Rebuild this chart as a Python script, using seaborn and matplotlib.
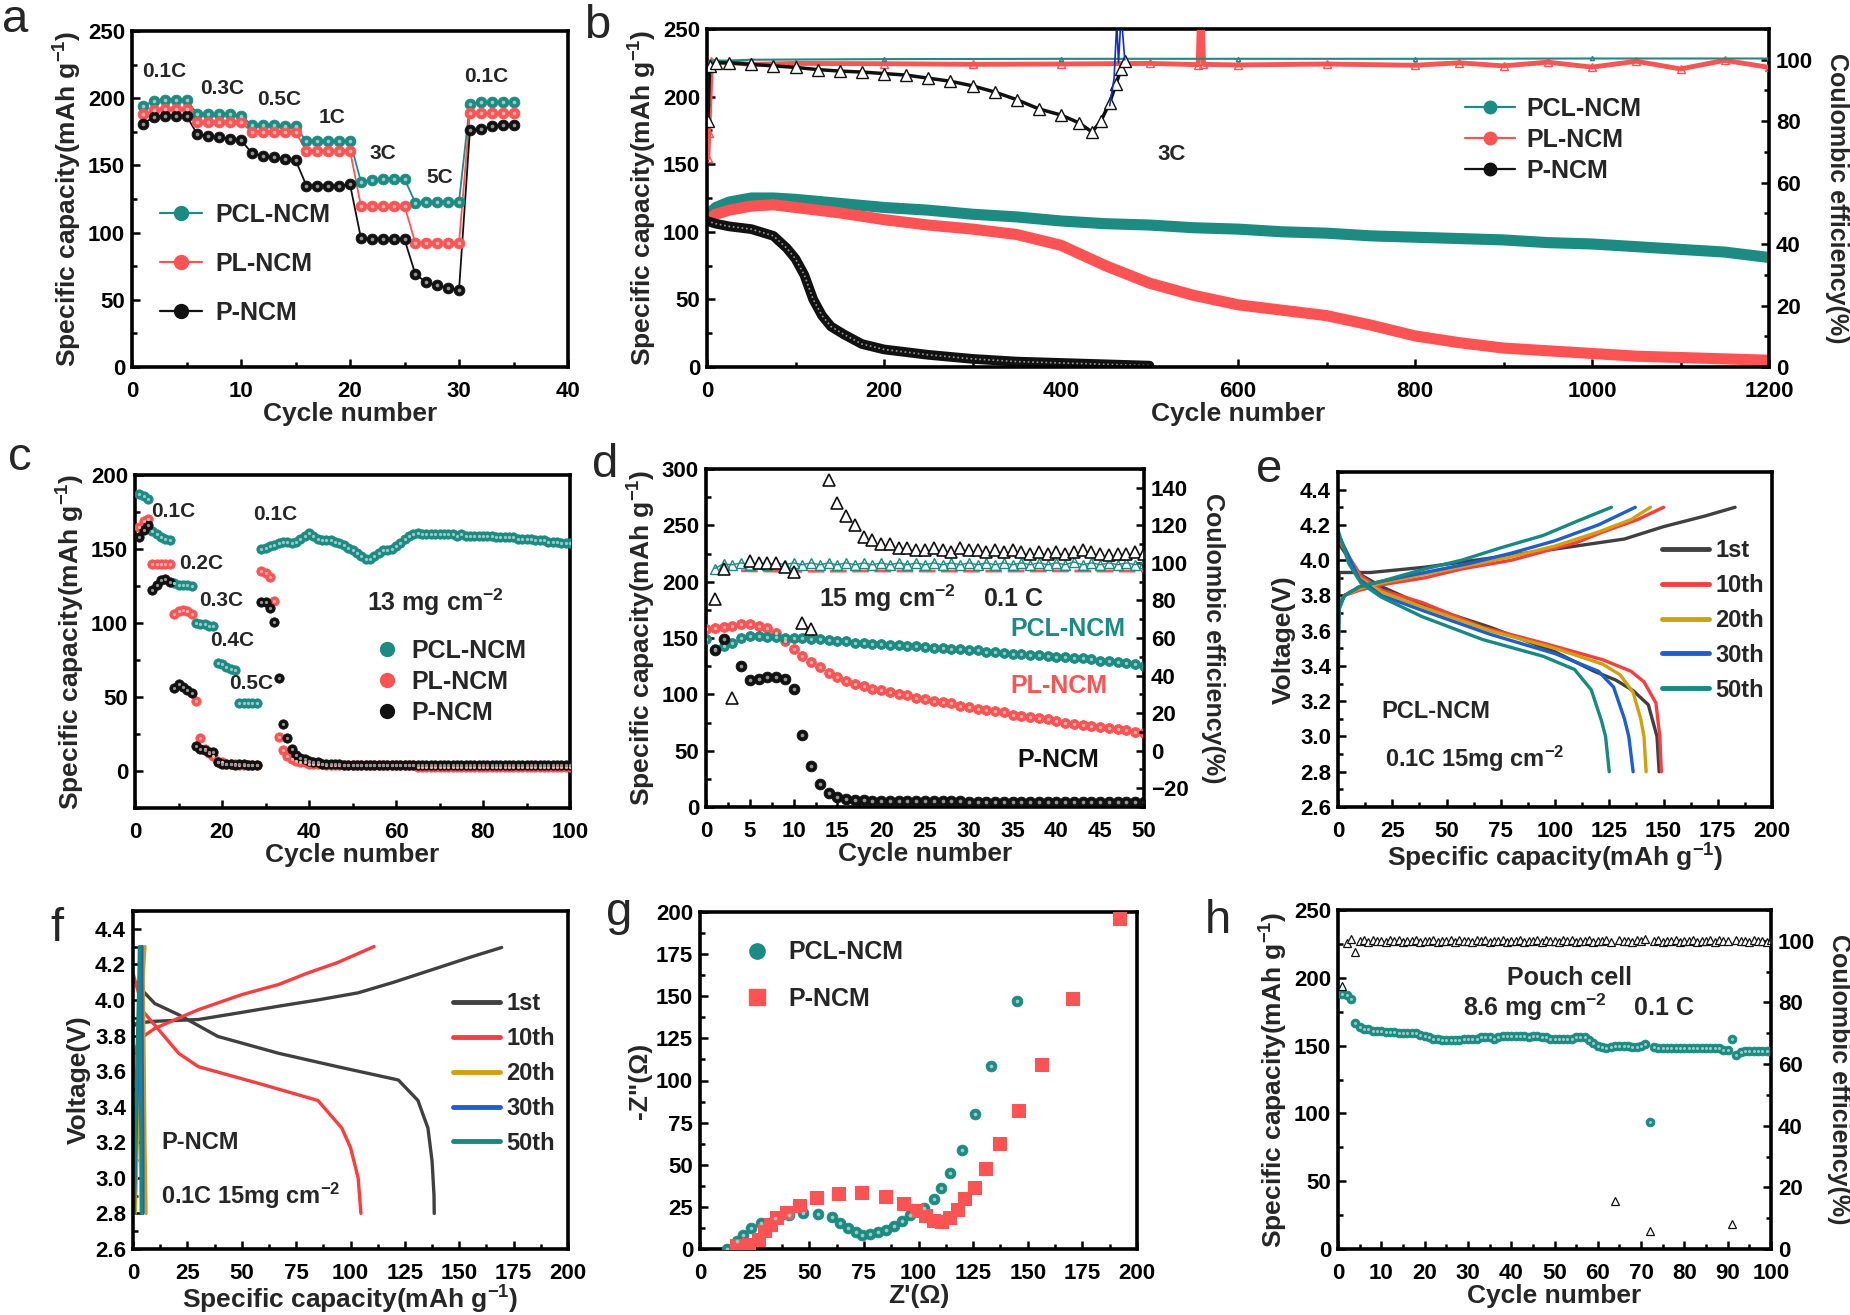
import matplotlib

matplotlib.use("Agg")

import matplotlib.pyplot as plt
import matplotlib.colors as mcolors
import seaborn as sns
from matplotlib.lines import Line2D
from matplotlib.ticker import MultipleLocator, FormatStrFormatter

sns.set_theme(style="ticks")
plt.rcParams.update({
    "font.family": ["Liberation Sans", "DejaVu Sans"],
    "font.weight": "bold",
    "axes.labelweight": "bold",
    "axes.labelsize": 19,
    "xtick.labelsize": 16,
    "ytick.labelsize": 16,
    "mathtext.fontset": "custom",
    "mathtext.rm": "Liberation Sans:bold",
    "mathtext.bf": "Liberation Sans:bold",
    "mathtext.default": "bf",
    "axes.edgecolor": "black",
    "xtick.color": "black",
    "ytick.color": "black",
})

TEAL = "#1a8c82"
RED = "#ff5252"
BLACK = "#111111"
GRAY = "#404040"
GOLD = "#d4a00a"
BLUE = "#1a5fd6"

# ---------------- panel a : rate capability ----------------
a_cycle = list(range(1, 36))
a_pcl = [194, 198, 199, 199, 199, 188, 188, 188, 188, 187, 180, 180, 180, 179, 179,
         168, 168, 168, 168, 168, 138, 139, 140, 140, 140, 122, 123, 123, 123, 123,
         196, 197, 197, 197, 197]
a_pl = [188, 191, 192, 192, 192, 182, 182, 182, 182, 182, 175, 175, 175, 175, 175,
        161, 161, 161, 161, 161, 120, 120, 120, 120, 120, 92, 92, 92, 92, 92,
        189, 189, 189, 189, 189]
a_p = [181, 186, 187, 187, 187, 173, 172, 171, 170, 169, 159, 157, 156, 155, 154,
       135, 135, 135, 135, 136, 96, 95, 95, 95, 95, 69, 63, 61, 59, 57,
       176, 177, 179, 180, 180]
a_rates = ["0.1C", "0.3C", "0.5C", "1C", "3C", "5C", "0.1C"]
a_rate_x = [3.0, 8.3, 13.5, 18.4, 23.0, 28.2, 32.5]
a_rate_y = [220, 207, 199, 186, 159, 141, 216]

# ---------------- panel b : long cycling at 3C ----------------
b_cycle = [0, 10, 25, 50, 75, 100, 150, 200, 250, 300, 350, 400, 450, 500, 550, 600,
           650, 700, 750, 800, 850, 900, 950, 1000, 1050, 1100, 1150, 1200]
b_pcl = [112, 118, 122, 125, 125, 124, 121, 118, 116, 113, 111, 108, 106, 105, 103, 102,
         100, 99, 97, 96, 95, 94, 92, 91, 89, 87, 85, 81]
b_pl = [108, 113, 116, 119, 120, 118, 114, 109, 105, 102, 98, 90, 75, 62, 53, 46,
        42, 38, 31, 23, 18, 14, 12, 10, 8, 7, 6, 5]
b_p_cycle = [0, 10, 25, 50, 75, 90, 100, 110, 120, 130, 140, 155, 175, 200, 250, 300,
             350, 400, 450, 500]
b_p = [108, 106, 104, 102, 97, 88, 80, 68, 50, 38, 30, 24, 17, 13, 9, 6, 4, 3, 2, 1]
b_ce_pcl_cycle = [1, 3, 50, 200, 400, 600, 800, 1000, 1200]
b_ce_pcl = [86, 99.5, 100.0, 100.2, 100.3, 100.3, 100.3, 100.4, 100.4]
b_ce_pl_cycle = [1, 2, 5, 50, 100, 200, 300, 400, 500, 555, 558, 561, 600, 700, 800,
                 850, 900, 950, 1000, 1050, 1100, 1150, 1200]
b_ce_pl = [68, 76, 99.5, 98.5, 98.8, 98.7, 98.5, 98.6, 98.8, 98.4, 130, 98.5, 98.3,
           98.6, 98.2, 99.0, 98.0, 99.2, 97.6, 99.5, 97.0, 99.8, 97.5]
b_ce_p_cycle = [1, 3, 10, 25, 50, 75, 100, 125, 150, 175, 200, 225, 250, 275, 300, 325,
                350, 375, 400, 420, 435, 445, 455, 462, 468, 472]
b_ce_p = [80, 98, 99, 99, 98.5, 98, 97.5, 96.8, 96.3, 96, 95.5, 95, 94, 93, 91.5, 89.5,
          87, 84, 82, 79.5, 76.5, 80, 86, 92, 97, 99.5]
b_ce_blue_cycle = [455, 460, 463, 465, 468, 472]
b_ce_blue = [85, 94, 112, 99, 115, 100]

# ---------------- panel c : high loading rate test ----------------
c_cycle = list(range(1, 101))
c_pcl = [187, 186, 184, 162, 160, 158, 157, 156, 127, 126,
         126, 126, 125, 100, 99, 99, 98, 98, 73, 72,
         70, 69, 68, 46, 46, 46, 46, 46, 150, 151,
         152, 153, 154, 155, 155, 154, 155, 157, 159, 161,
         159, 157, 156, 156, 156, 155, 154, 153, 151, 149,
         147, 145, 143, 143, 145, 147, 149, 149, 150, 152,
         154, 157, 159, 160, 161, 160, 160, 160, 160, 160,
         160, 160, 160, 159, 160, 159, 159, 159, 159, 159,
         159, 159, 158, 158, 158, 158, 158, 157, 157, 157,
         157, 156, 156, 156, 155, 155, 155, 154, 154, 154]
c_pl = [165, 169, 170, 140, 140, 140, 140, 140, 106, 108,
        109, 108, 106, 47, 22, 15, 12, 10, 6, 6,
        5, 5, 5, 4, 4, 4, 4, 4, 135, 134,
        131, 115, 23, 14, 10, 8, 7, 6, 6, 5,
        5, 5, 5, 4, 4, 4, 4, 4, 4, 4,
        4, 4, 4, 4, 4, 4, 4, 4, 4, 4,
        4, 4, 4, 4, 3, 3, 3, 3, 3, 3,
        3, 3, 3, 3, 3, 3, 3, 3, 3, 3,
        3, 3, 3, 3, 3, 3, 3, 3, 3, 3,
        3, 3, 3, 3, 3, 3, 3, 3, 3, 3]
c_p = [158, 163, 166, 122, 126, 129, 130, 128, 56, 59,
       57, 55, 53, 17, 15, 14, 13, 13, 6, 5,
       5, 5, 4, 5, 5, 4, 4, 4, 114, 114,
       110, 101, 63, 32, 22, 15, 11, 9, 8, 7,
       6, 6, 5, 5, 5, 5, 5, 4, 4, 4,
       4, 4, 4, 4, 4, 4, 4, 4, 4, 4,
       4, 4, 4, 4, 4, 4, 4, 4, 4, 4,
       4, 4, 4, 4, 4, 4, 4, 4, 4, 4,
       4, 4, 4, 4, 4, 4, 4, 4, 4, 4,
       4, 4, 4, 4, 4, 4, 4, 4, 4, 4]
c_rates = ["0.1C", "0.2C", "0.3C", "0.4C", "0.5C", "0.1C"]
c_rate_x = [8.9, 15.2, 19.8, 22.4, 26.8, 32.2]
c_rate_y = [175, 140, 115, 88, 59, 173]

# ---------------- panel d : 15 mg cm-2 cycling ----------------
d_cycle = list(range(0, 51))
d_pcl = [149, 140, 143, 146, 150, 152, 152, 151, 151, 150, 150, 150, 149, 149, 148, 147,
         147, 146, 146, 145, 145, 144, 144, 143, 143, 142, 141, 141, 140, 140, 139, 139,
         138, 138, 137, 136, 136, 135, 135, 134, 133, 133, 132, 132, 131, 130, 130, 129,
         128, 127, 125]
d_pl = [158, 159, 160, 161, 162, 162, 161, 159, 154, 147, 140, 134, 129, 124, 119, 115,
        112, 109, 107, 105, 104, 102, 100, 99, 97, 96, 94, 93, 92, 90, 89, 87,
        86, 85, 84, 82, 81, 80, 79, 78, 76, 75, 74, 73, 72, 71, 70, 69,
        68, 67, 66]
d_p_cycle = [1, 2] + list(range(4, 51))
d_p = [139, 149, 125, 113, 114, 115, 115, 114, 105, 64, 36, 20, 12, 9, 7, 6,
       6, 5, 5, 5, 5, 5, 5, 5, 5, 5, 5, 5, 4, 4, 4, 4,
       4, 4, 4, 4, 4, 4, 4, 4, 4, 4, 4, 4, 4, 4, 4, 4, 4]
d_ce_p_cycle = [1, 2, 3] + list(range(5, 13)) + list(range(14, 51))
d_ce_p = [81, 97, 28, 101, 100, 100, 100, 98, 95, 68, 65,
          144, 132, 125, 120, 114, 112, 110, 110, 108, 108,
          107, 107, 108, 107, 106, 108, 107, 107, 106, 107,
          106, 107, 106, 105, 106, 105, 106, 105, 106, 107,
          106, 105, 104, 105, 105, 106, 105]
d_ce_pcl_cycle = list(range(1, 51))
d_ce_pcl = [97, 99.5, 99, 100, 99, 100, 99, 100, 99, 100, 99, 100, 99, 100, 99, 100,
            99, 100, 99, 100, 99, 100, 99, 100, 99, 100, 99, 100, 99, 100, 99, 100,
            99, 100, 99, 100, 99, 100, 99, 100, 99, 100.5, 99, 100, 99, 100, 99, 100,
            99, 100]
d_ce_pl_cycle = [4, 10, 20, 30, 40, 50]
d_ce_pl = [95.8, 95.5, 95.7, 95.6, 95.7, 95.6]

# ---------------- panel e : PCL-NCM voltage profiles ----------------
e_labels = ["1st", "10th", "20th", "30th", "50th"]
e_colors = [GRAY, "#ff3b3b", GOLD, BLUE, "#158a80"]
e_chg_cap = [
    [0, 0.5, 5, 15, 40, 75, 104, 132, 150, 169, 183],
    [0, 0.5, 3, 10, 20, 40, 57, 80, 95, 110, 122, 138, 150],
    [0, 0.5, 3, 10, 20, 40, 60, 80, 100, 120, 135, 144],
    [0, 0.5, 3, 10, 20, 40, 60, 80, 100, 120, 137],
    [0, 0.5, 3, 10, 20, 40, 57, 75, 94.5, 110, 126],
]
e_chg_v = [
    [3.00, 3.93, 3.93, 3.93, 3.96, 4.02, 4.07, 4.12, 4.19, 4.25, 4.30],
    [3.55, 3.75, 3.80, 3.83, 3.86, 3.90, 3.95, 4.00, 4.05, 4.10, 4.16, 4.23, 4.30],
    [3.50, 3.74, 3.80, 3.84, 3.87, 3.92, 3.97, 4.02, 4.08, 4.16, 4.23, 4.30],
    [3.45, 3.74, 3.80, 3.85, 3.88, 3.93, 3.98, 4.04, 4.11, 4.20, 4.30],
    [3.40, 3.72, 3.80, 3.85, 3.88, 3.95, 4.00, 4.07, 4.14, 4.22, 4.30],
]
e_dis_cap = [
    [0, 10, 20, 40, 70, 100, 118, 128, 136, 143, 147, 148],
    [0, 10.6, 20, 38.7, 66.6, 94.5, 122, 135, 141, 146.5, 148.3, 149],
    [0, 10, 20, 40, 70, 100, 122, 130, 136, 139.5, 141, 142],
    [0, 10, 20, 40, 70, 100, 110, 120, 127, 132, 134, 136],
    [0, 5, 10.6, 20, 38.7, 66.6, 94.5, 109, 116.7, 121.4, 123.3, 125],
]
e_dis_v = [
    [4.10, 3.92, 3.85, 3.74, 3.62, 3.48, 3.37, 3.32, 3.26, 3.18, 3.00, 2.80],
    [4.12, 3.91, 3.83, 3.76, 3.62, 3.53, 3.435, 3.37, 3.31, 3.19, 3.00, 2.80],
    [4.14, 3.90, 3.82, 3.73, 3.60, 3.50, 3.41, 3.35, 3.25, 3.10, 3.00, 2.80],
    [4.15, 3.89, 3.80, 3.71, 3.58, 3.47, 3.42, 3.37, 3.28, 3.10, 3.00, 2.80],
    [4.17, 3.98, 3.87, 3.79, 3.68, 3.55, 3.455, 3.38, 3.265, 3.09, 3.00, 2.80],
]

# ---------------- panel f : P-NCM voltage profiles ----------------
f_chg_cap = [
    [0, 1.9, 10, 30, 50, 67, 85, 103.5, 120, 140, 155, 169.5],
    [0, 0.5, 3, 10, 30, 50, 67, 80, 94, 110.8],
    [1, 2, 3, 4, 5.5],
    [0.5, 2, 3.5, 4],
    [0.5, 1.5, 2.5, 3],
]
f_chg_v = [
    [3.85, 3.87, 3.88, 3.89, 3.93, 3.965, 4.00, 4.04, 4.10, 4.18, 4.24, 4.295],
    [3.55, 3.70, 3.78, 3.84, 3.945, 4.03, 4.087, 4.15, 4.21, 4.30],
    [2.80, 3.20, 3.60, 4.00, 4.30],
    [2.80, 3.50, 4.00, 4.30],
    [2.80, 3.50, 4.00, 4.30],
]
f_dis_cap = [
    [3.8, 10, 21, 39, 67, 94, 122, 131, 135.6, 137.5, 138.4, 138.5],
    [0, 5, 12, 21, 30, 58, 85, 96, 100, 103.5, 104.8],
    [4.5, 5, 5.5, 6],
    [4, 4.2, 4.5, 4.6],
    [3, 3.3, 3.6, 3.8],
]
f_dis_v = [
    [4.06, 3.98, 3.917, 3.795, 3.70, 3.625, 3.55, 3.435, 3.28, 3.095, 2.90, 2.80],
    [4.15, 3.93, 3.83, 3.70, 3.625, 3.53, 3.435, 3.28, 3.17, 3.00, 2.80],
    [4.30, 3.80, 3.20, 2.80],
    [4.30, 3.70, 3.20, 2.80],
    [4.30, 3.80, 3.20, 2.80],
]

# ---------------- panel g : EIS ----------------
g_pcl_re = [12.4, 17, 19.7, 23.3, 28, 34.3, 40.7, 47, 53.9, 60.3, 64.3, 67.9, 71.6, 74.3,
            78, 81.6, 85.1, 88.8, 92.4, 96.1, 102.5, 106.9, 110.2, 114.6, 120, 126, 133,
            145.3]
g_pcl_im = [0, 4.5, 8.4, 12.4, 15.4, 18.4, 20, 21.4, 20.8, 18.8, 15.4, 12.4, 10, 8.4,
            8.8, 10, 11.4, 13.4, 16.4, 20, 24.4, 29.5, 36, 45, 58.8, 80, 108.5, 146.9]
g_p_re = [17, 22.4, 27, 29.7, 32.5, 35.2, 39.7, 45.8, 53.4, 63.4, 74.3, 84.9, 93.5, 99.5,
          103.5, 107, 110.7, 114.3, 117.9, 121.2, 126, 131, 137.5, 146, 156.5, 170.7, 192]
g_p_im = [1.5, 2.4, 5.4, 10.4, 14.4, 18.4, 21.4, 25.4, 30, 32.8, 33.4, 30.8, 26.8, 22.8,
          19.4, 16.8, 16, 18.4, 23.4, 29.5, 36.4, 47.4, 62.5, 82, 109.4, 148.4, 196]

# ---------------- panel h : pouch cell ----------------
h_cycle = list(range(1, 101))
h_pcl = [188, 187, 184, 167, 164, 162, 162, 161, 161, 161,
         160, 160, 160, 159, 159, 159, 159, 159, 158, 157,
         156, 155, 155, 154, 154, 154, 154, 154, 155, 155,
         155, 155, 156, 156, 156, 155, 156, 157, 157, 157,
         157, 157, 157, 156, 157, 157, 156, 156, 155, 155,
         155, 155, 155, 155, 156, 156, 156, 154, 152, 150,
         149, 148, 149, 150, 150, 150, 150, 149, 149, 150,
         151, 94, 149, 148, 148, 148, 148, 148, 148, 148,
         148, 148, 148, 148, 148, 148, 148, 148, 147, 147,
         155, 143, 145, 146, 146, 146, 146, 146, 146, 146]
h_ce = [85.5, 99.4, 100.6, 96.4, 99.8, 100.2, 99.7, 100.3, 99.8, 100.1,
        99.7, 100.2, 99.8, 100.3, 99.7, 100.1, 99.8, 100.2, 99.6, 100.1,
        99.8, 100.2, 99.7, 100.1, 99.8, 100.3, 99.7, 100.2, 99.8, 100.1,
        99.7, 100.2, 99.8, 100.3, 99.7, 100.1, 99.8, 100.2, 99.6, 100.1,
        99.8, 100.2, 99.7, 100.1, 99.8, 100.3, 99.7, 100.2, 99.8, 100.1,
        99.7, 100.2, 99.8, 100.3, 99.7, 100.1, 99.8, 100.2, 99.6, 100.1,
        99.8, 100.2, 99.7, 15.7, 100.3, 99.8, 100.1, 99.7, 100.2, 99.8,
        100.6, 5.9, 99.8, 100.2, 99.7, 100.1, 99.8, 100.2, 99.7, 100.1,
        99.8, 100.2, 99.7, 100.1, 99.8, 100.3, 99.7, 100.2, 99.8, 100.1,
        8.0, 100.2, 99.8, 100.1, 99.7, 100.2, 99.8, 100.1, 99.7, 100.2]

CAP_LABEL = "Specific capacity(mAh g$^{-1}$)"
CE_LABEL = "Coulombic efficiency(%)"

fig = plt.figure(figsize=(18.5, 13.15), dpi=100)
W, H = 1850, 1315


def add_ax(l, t, r, b):
    return fig.add_axes([l / W, 1 - b / H, (r - l) / W, (b - t) / H])


def setup(ax, xlim, ylim, xmaj, xmin, ymaj, ymin, xlabel=None, ylabel=None):
    ax.set_xlim(*xlim)
    ax.set_ylim(*ylim)
    ax.xaxis.set_major_locator(MultipleLocator(xmaj))
    ax.xaxis.set_minor_locator(MultipleLocator(xmin))
    ax.yaxis.set_major_locator(MultipleLocator(ymaj))
    ax.yaxis.set_minor_locator(MultipleLocator(ymin))
    ax.tick_params(which="both", direction="in", top=False, right=False, width=1.8)
    ax.tick_params(which="major", length=6)
    ax.tick_params(axis="y", which="major", pad=5)
    ax.tick_params(axis="x", which="major", pad=10)
    ax.tick_params(which="minor", length=3.5)
    for sp in ax.spines.values():
        sp.set_linewidth(2.6)
    if xlabel:
        ax.set_xlabel(xlabel, labelpad=0)
    if ylabel:
        ax.set_ylabel(ylabel, labelpad=3)


def twin(ax, ylim, ymaj, ymin):
    tw = ax.twinx()
    tw.set_ylim(*ylim)
    tw.yaxis.set_major_locator(MultipleLocator(ymaj))
    tw.yaxis.set_minor_locator(MultipleLocator(ymin))
    tw.tick_params(which="both", direction="in", width=1.8)
    tw.tick_params(which="major", length=6, pad=5)
    tw.tick_params(which="minor", length=3.5)
    tw.set_ylabel(CE_LABEL, rotation=270, labelpad=26, fontsize=18)
    tw.grid(False)
    return tw


def lighter(color, f=0.55):
    r, g, b = mcolors.to_rgb(color)
    return (r + (1 - r) * f, g + (1 - g) * f, b + (1 - b) * f)


def balls(ax, x, y, color, s=50, marker="o"):
    sns.scatterplot(x=x, y=y, ax=ax, color=color, s=s, marker=marker, edgecolor=color,
                    linewidth=0.6, legend=False, zorder=3)
    sns.scatterplot(x=x, y=y, ax=ax, color=lighter(color), s=s * 0.12, marker=marker,
                    linewidth=0, legend=False, zorder=4)


def ball_handle(color, line=True, ms=10, marker="o"):
    return Line2D([], [], color=color, lw=1.6 if line else 0, ls="-" if line else "none",
                  marker=marker, ms=ms, mfc=color, mec=color)


# ---- a
ax = add_ax(132, 31, 568, 367)
for vals, col in [(a_pcl, TEAL), (a_pl, RED), (a_p, BLACK)]:
    sns.lineplot(x=a_cycle, y=vals, ax=ax, color=col, lw=1.3, sort=False, estimator=None)
    balls(ax, a_cycle, vals, col, s=60)
for t, x, y in zip(a_rates, a_rate_x, a_rate_y):
    ax.text(x, y, t, ha="center", va="center", fontsize=15)
setup(ax, (0, 40), (0, 250), 10, 5, 50, 25, "Cycle number", CAP_LABEL)
ax.legend([ball_handle(TEAL), ball_handle(RED), ball_handle(BLACK)],
          ["PCL-NCM", "PL-NCM", "P-NCM"], loc="center left", bbox_to_anchor=(0.064, 0.308),
          frameon=False, fontsize=18, handlelength=1.7, handletextpad=0.5,
          labelspacing=1.0, borderpad=0, borderaxespad=0)

# ---- b
ax = add_ax(707, 29, 1769, 367)
sns.lineplot(x=b_cycle, y=b_pcl, ax=ax, color=TEAL, lw=8, sort=False, estimator=None)
sns.lineplot(x=b_cycle, y=b_pl, ax=ax, color=RED, lw=8, sort=False, estimator=None)
sns.lineplot(x=b_p_cycle, y=b_p, ax=ax, color=BLACK, lw=7, sort=False, estimator=None)
sns.lineplot(x=b_p_cycle, y=b_p, ax=ax, color="#9a9a9a", lw=1.2, ls=":", sort=False,
             estimator=None)
ax.text(525, 157, "3C", ha="center", va="center", fontsize=16)
setup(ax, (0, 1200), (0, 250), 200, 100, 50, 25, "Cycle number", CAP_LABEL)
tw = twin(ax, (0, 110), 20, 10)
tw.plot(b_ce_pl_cycle, b_ce_pl, color=RED, lw=3.5, marker="^", ms=6, mfc="none", mec=RED)
tw.plot(b_ce_pcl_cycle, b_ce_pcl, color=TEAL, lw=1.5, marker="^", ms=3, mfc="none", mec=TEAL)
tw.plot(b_ce_p_cycle, b_ce_p, color=BLACK, lw=2.5, marker="^", ms=9, mfc="white", mec=BLACK)
tw.plot(b_ce_blue_cycle, b_ce_blue, color="#1030c0", lw=1.2)
ax.legend([ball_handle(TEAL, ms=9), ball_handle(RED, ms=9), ball_handle(BLACK, ms=9)],
          ["PCL-NCM", "PL-NCM", "P-NCM"], loc="center left", bbox_to_anchor=(0.714, 0.672),
          frameon=False, fontsize=18, handlelength=2.0, handletextpad=0.45,
          labelspacing=0.28, borderpad=0, borderaxespad=0)

# ---- c
ax = add_ax(135, 475, 570, 808)
for vals, col in [(c_pcl, TEAL), (c_pl, RED), (c_p, BLACK)]:
    balls(ax, c_cycle, vals, col, s=45)
for t, x, y in zip(c_rates, c_rate_x, c_rate_y):
    ax.text(x, y, t, ha="center", va="center", fontsize=15)
ax.text(69, 114, "13 mg cm$^{-2}$", ha="center", va="center", fontsize=18)
setup(ax, (0, 100), (-25, 200), 20, 10, 50, 25, "Cycle number", CAP_LABEL)
ax.legend([ball_handle(TEAL, False), ball_handle(RED, False), ball_handle(BLACK, False)],
          ["PCL-NCM", "PL-NCM", "P-NCM"], loc="center left", bbox_to_anchor=(0.556, 0.378),
          frameon=False, fontsize=18, handlelength=0.8, handletextpad=0.6,
          labelspacing=0.28, borderpad=0, borderaxespad=0)

# ---- d
ax = add_ax(706, 469, 1144, 807)
balls(ax, d_cycle, d_pl, RED, s=50)
balls(ax, d_cycle, d_pcl, TEAL, s=50)
balls(ax, d_p_cycle, d_p, BLACK, s=60)
ax.text(25.7, 185, "15 mg cm$^{-2}$    0.1 C", ha="center", va="center", fontsize=18)
ax.text(41.3, 158, "PCL-NCM", color=TEAL, ha="center", va="center", fontsize=18)
ax.text(40.3, 107, "PL-NCM", color=RED, ha="center", va="center", fontsize=18)
ax.text(40.2, 42, "P-NCM", color=BLACK, ha="center", va="center", fontsize=18)
setup(ax, (0, 50), (0, 300), 5, 2.5, 50, 25, "Cycle number", CAP_LABEL)
tw = twin(ax, (-30, 150), 20, 10)
tw.plot(d_ce_pl_cycle, d_ce_pl, color=RED, lw=2, ls=(0, (6, 2)))
tw.plot(d_ce_pcl_cycle, d_ce_pcl, color=TEAL, lw=1, marker="^", ms=7, mfc="none", mec=TEAL)
tw.plot(d_ce_p_cycle, d_ce_p, ls="none", marker="^", ms=9, mfc="white", mec=BLACK, mew=1.2)

# ---- e and f
for box, chg_c, chg_v, dis_c, dis_v, name, anchor in [
    ((1338, 472, 1772, 807), e_chg_cap, e_chg_v, e_dis_cap, e_dis_v, "PCL-NCM", (0.7465, 0.557)),
    ((133, 911, 568, 1249), f_chg_cap, f_chg_v, f_dis_cap, f_dis_v, "P-NCM", (0.736, 0.519)),
]:
    ax = add_ax(*box)
    for i, col in enumerate(e_colors):
        sns.lineplot(x=chg_c[i], y=chg_v[i], ax=ax, color=col, lw=2.4, sort=False, estimator=None)
        sns.lineplot(x=dis_c[i], y=dis_v[i], ax=ax, color=col, lw=2.4, sort=False, estimator=None)
    setup(ax, (0, 200), (2.6, 4.5), 25, 12.5, 0.2, 0.1, CAP_LABEL, "Voltage(V)")
    ax.yaxis.set_major_formatter(FormatStrFormatter("%.1f"))
    ax.legend([Line2D([], [], color=c, lw=3.5) for c in e_colors], e_labels,
              loc="center left", bbox_to_anchor=anchor, frameon=False, fontsize=17,
              handlelength=2.0, handletextpad=0.25, labelspacing=0.5,
              borderpad=0, borderaxespad=0)
    if name == "PCL-NCM":
        ax.text(20, 3.14, name, ha="left", va="center", fontsize=17)
        ax.text(21.7, 2.87, "0.1C 15mg cm$^{-2}$", ha="left", va="center", fontsize=17)
    else:
        ax.text(13, 3.2, name, ha="left", va="center", fontsize=17)
        ax.text(13, 2.9, "0.1C 15mg cm$^{-2}$", ha="left", va="center", fontsize=17)

# ---- g
ax = add_ax(700, 912, 1137, 1249)
balls(ax, g_pcl_re, g_pcl_im, TEAL, s=60)
sns.scatterplot(x=g_p_re, y=g_p_im, ax=ax, color=RED, s=90, marker="s", linewidth=0,
                legend=False, zorder=3)
setup(ax, (0, 200), (0, 200), 25, 12.5, 25, 12.5, "Z'(\u03a9)", '-Z"(\u03a9)')
ax.legend([ball_handle(TEAL, False, ms=11), ball_handle(RED, False, ms=11, marker="s")],
          ["PCL-NCM", "P-NCM"], loc="center left", bbox_to_anchor=(0.105, 0.811),
          frameon=False, fontsize=18, handlelength=0.9, handletextpad=0.8,
          labelspacing=0.9, borderpad=0, borderaxespad=0)

# ---- h
ax = add_ax(1338, 910, 1771, 1249)
balls(ax, h_cycle, h_pcl, TEAL, s=40)
ax.text(53.5, 200, "Pouch cell", ha="center", va="center", fontsize=18)
ax.text(55.7, 178, "8.6 mg cm$^{-2}$    0.1 C", ha="center", va="center", fontsize=18)
setup(ax, (0, 100), (0, 250), 10, 5, 50, 25, "Cycle number", CAP_LABEL)
tw = twin(ax, (0, 110), 20, 10)
tw.plot(h_cycle, h_ce, ls="none", marker="^", ms=6, mfc="white", mec=BLACK, mew=0.9)

# ---- panel letters
for s, x, y in [("a", 2, 32), ("b", 584, 38), ("c", 8, 470), ("d", 592, 477),
                ("e", 1256, 482), ("f", 50, 941), ("g", 606, 925), ("h", 1205, 933)]:
    fig.text(x / W, 1 - y / H, s, fontsize=34, fontweight="normal", ha="left", va="baseline")

fig.savefig("out.png", dpi=100)
